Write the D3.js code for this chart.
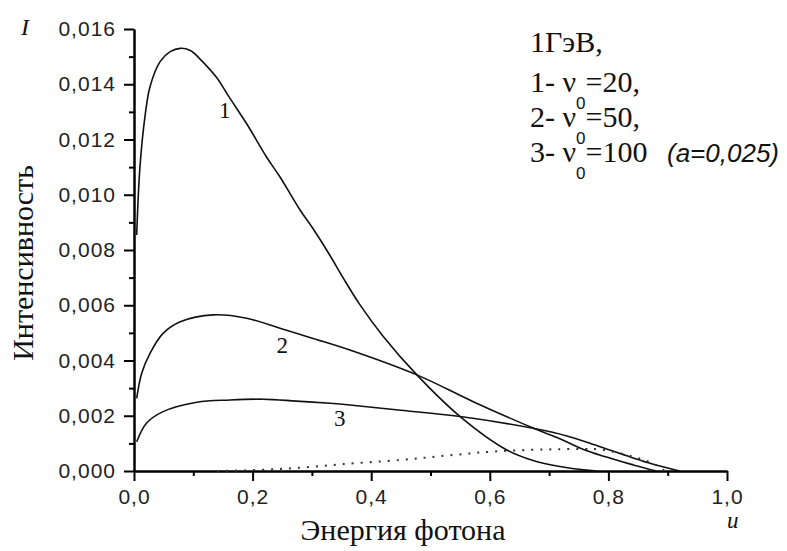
<!DOCTYPE html>
<html><head><meta charset="utf-8">
<script src="https://cdn.jsdelivr.net/npm/d3@7"></script>
<style>
body{margin:0;background:#fff;}
svg{display:block;}
</style></head>
<body>
<svg id="chart" width="787" height="551"></svg>
<script>
// ---- data ----
const xTicks = [0, 0.2, 0.4, 0.6, 0.8, 1.0];
const yTicks = [0, 0.002, 0.004, 0.006, 0.008, 0.010, 0.012, 0.014, 0.016];
const curve1 = [[0.0045,0.00854],[0.01,0.0110],[0.0185,0.01283],[0.027,0.01391],[0.044,0.01482],[0.061,0.01518],[0.078,0.01530],[0.095,0.01522],[0.111,0.01492],[0.139,0.01425],[0.16,0.01355],[0.19,0.01257],[0.224,0.01135],[0.246,0.01065],[0.28,0.00945],[0.302,0.00877],[0.33,0.00782],[0.353,0.00698],[0.38,0.00605],[0.42,0.00488],[0.477,0.00348],[0.55,0.00197],[0.628,0.00077],[0.673,0.00038],[0.718,0.00016],[0.758,0.00004],[0.78,0]];
const curve2 = [[0.0045,0.00263],[0.013,0.00354],[0.027,0.00426],[0.049,0.00498],[0.078,0.00540],[0.134,0.00565],[0.19,0.00553],[0.246,0.00517],[0.302,0.00480],[0.364,0.00438],[0.477,0.00348],[0.572,0.00251],[0.677,0.00152],[0.718,0.00117],[0.758,0.00078],[0.842,0.00022],[0.881,0]];
const curve3 = [[0.0045,0.00106],[0.021,0.00173],[0.049,0.00215],[0.106,0.00249],[0.162,0.00257],[0.218,0.00260],[0.274,0.00253],[0.331,0.00245],[0.364,0.00239],[0.45,0.00220],[0.55,0.00197],[0.677,0.00153],[0.73,0.00127],[0.786,0.00088],[0.87,0.00028],[0.92,0]];
const curveDot = [[0.14,0],[0.2,0.00003],[0.25,0.00008],[0.3,0.00015],[0.353,0.00025],[0.45,0.00040],[0.533,0.00057],[0.617,0.00072],[0.718,0.00079],[0.76,0.00080],[0.786,0.00078],[0.842,0.00052],[0.88,0.00022],[0.895,0]];
const curveLabels = [["1",0.153,0.01278],["2",0.25,0.00427],["3",0.347,0.00163]];
const legendLines = ["1ГэВ,", "1- ν|0|=20,", "2- ν|0|=50,", "3- ν|0|=100"];
const paramText = "(a=0,025)";
const xTitle = "Энергия фотона";
const yTitle = "Интенсивность";

// ---- layout ----
const svg = d3.select("#chart");
const x = d3.scaleLinear().domain([0,1]).range([134,727]);
const y = d3.scaleLinear().domain([0,0.016]).range([471,29]);
const fmt = d => d3.format(".1f")(d).replace(".", ",");
const fmtY = d => d3.format(".3f")(d).replace(".", ",");

// minor + major ticks
const gx = svg.append("g").attr("transform","translate(0,471)");
gx.call(d3.axisBottom(x).tickValues(d3.range(0.1,1,0.2)).tickSize(5).tickSizeOuter(0).tickFormat(""));
gx.append("g").call(d3.axisBottom(x).tickValues(xTicks).tickSize(10).tickSizeOuter(0).tickFormat(fmt).tickPadding(8));
const gy = svg.append("g").attr("transform","translate(134,0)");
gy.call(d3.axisLeft(y).tickValues(d3.range(0.001,0.016,0.002)).tickSize(5).tickSizeOuter(0).tickFormat(""));
gy.append("g").call(d3.axisLeft(y).tickValues(yTicks).tickSize(10).tickSizeOuter(0).tickFormat(fmtY).tickPadding(8));
svg.selectAll(".domain").attr("stroke","#000").attr("stroke-width",2);
svg.selectAll(".tick line").attr("stroke","#000").attr("stroke-width",2);
svg.selectAll(".tick text").attr("font-family","'Liberation Sans', Arial, sans-serif")
  .attr("font-size",21).attr("letter-spacing","1px").attr("fill","#222");

// curves
const line = d3.line().x(d=>x(d[0])).y(d=>y(d[1])).curve(d3.curveCatmullRom.alpha(0.5));
[curve1, curve2, curve3].forEach(c => {
  svg.append("path").datum(c).attr("d",line).attr("fill","none").attr("stroke","#111").attr("stroke-width",1.6);
});
svg.append("path").datum(curveDot).attr("d",line).attr("fill","none").attr("stroke","#333")
  .attr("stroke-width",2).attr("stroke-dasharray","2,7").attr("stroke-linecap","butt");

// curve labels
const serif = "'Liberation Serif','Times New Roman',serif";
curveLabels.forEach(([t,u,v]) => {
  svg.append("text").attr("x",x(u)).attr("y",y(v)).attr("text-anchor","middle")
    .attr("font-family",serif).attr("font-size",23).attr("fill","#111").text(t);
});

// axis titles
svg.append("text").attr("x",403).attr("y",540).attr("text-anchor","middle").attr("font-family",serif)
  .attr("font-size",30).attr("fill","#111").text(xTitle);
svg.append("text").attr("transform","translate(33,263) rotate(-90)").attr("text-anchor","middle").attr("font-family",serif)
  .attr("font-size",30).attr("fill","#111").text(yTitle);
svg.append("text").attr("x",21).attr("y",35).attr("font-family",serif).attr("font-style","italic")
  .attr("font-size",24).attr("fill","#111").text("I");
svg.append("text").attr("x",727).attr("y",528).attr("font-family",serif).attr("font-style","italic")
  .attr("font-size",23).attr("fill","#111").text("u");

// legend
const lgY = [52, 92, 127, 162];
legendLines.forEach((s,i) => {
  const t = svg.append("text").attr("x",530).attr("y",lgY[i]).attr("font-family",serif).attr("font-size",30).attr("fill","#111");
  const parts = s.split("|");
  if (parts.length === 1) { t.text(s); return; }
  t.append("tspan").text(parts[0]);
  t.append("tspan").attr("dy",17).attr("font-family","'Liberation Sans',Arial,sans-serif").attr("font-size",17).text(parts[1]);
  t.append("tspan").attr("dy",-17).text(parts[2]);
});
svg.append("text").attr("x",667).attr("y",162).attr("font-family","'Liberation Sans',Arial,sans-serif")
  .attr("font-style","italic").attr("font-size",26).attr("fill","#111").text(paramText);
</script>
</body></html>
